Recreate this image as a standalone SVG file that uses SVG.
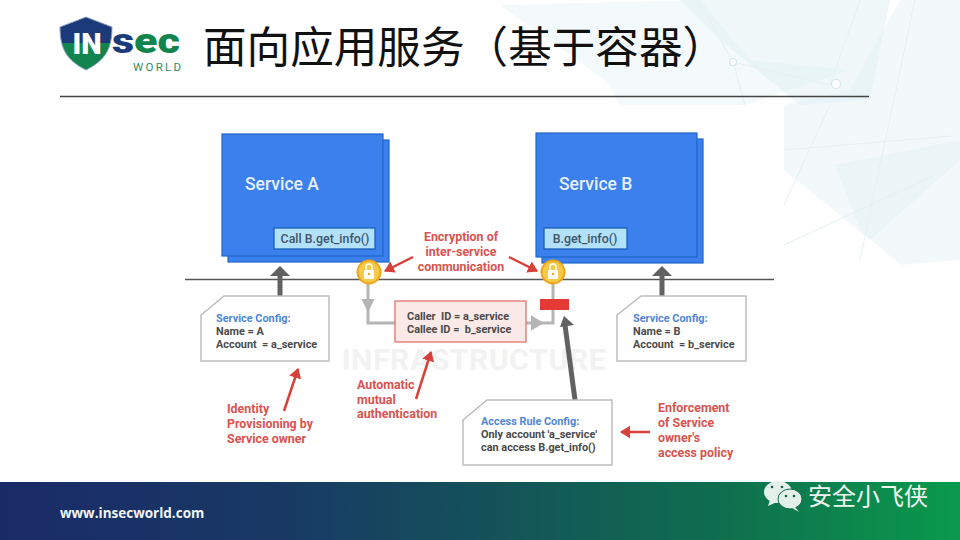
<svg xmlns="http://www.w3.org/2000/svg" width="960" height="540" viewBox="0 0 960 540">
<style>
.lat{font-family:"Roboto","Liberation Sans",sans-serif}
.cjk{font-family:"Noto Sans CJK SC",sans-serif}
.red{font-family:"Roboto","Liberation Sans",sans-serif;font-size:12.4px;font-weight:700;fill:#d9534f}
.cfg{font-family:"Roboto","Liberation Sans",sans-serif;font-size:10.9px;font-weight:700;fill:#4a4a4a;white-space:pre}
.cfgh{font-family:"Roboto","Liberation Sans",sans-serif;font-size:10.9px;font-weight:700;fill:#4f86d8}
.note{fill:#fff;stroke:#bdbdbd;stroke-width:1.5}
.blue{fill:#3b80ec;stroke:#1f66c8;stroke-width:1.2}
.call{fill:#b3e1fa;stroke:#1a62b8;stroke-width:1.3}
.gray{fill:none;stroke:#b5b5b5;stroke-width:3}
.dark{fill:none;stroke:#616161;stroke-width:5}
.rl{fill:none;stroke:#d8403a;stroke-width:2.5}
.poly{fill:#dcedf1}
.web{fill:none;stroke:#e4f0f2;stroke-width:1}
</style>
<defs>
<linearGradient id="foot" x1="0" x2="1" y1="0" y2="0"><stop offset="0" stop-color="#1a2a68"/><stop offset="0.3" stop-color="#183a64"/><stop offset="0.75" stop-color="#0f6e4e"/><stop offset="1" stop-color="#0a9a4c"/></linearGradient>
<linearGradient id="sh" x1="0" x2="0" y1="0" y2="1"><stop offset="0.5" stop-color="#1b3a7a"/><stop offset="0.5" stop-color="#11854d"/></linearGradient>
<marker id="ra" markerWidth="5" markerHeight="5" refX="3.6" refY="2.500" orient="auto"><path d="M0,0L4,2.500L0,5Z" fill="#d8403a"/></marker>
</defs>
<rect width="960" height="540" fill="#fff"/>
<g id="background">
<polygon class="poly" opacity=".3" points="500,5 700,0 750,60 850,70 745,105 620,105 605,80"/>
<polygon class="poly" opacity=".45" points="680,0 890,0 870,100 800,105 720,40"/>
<polygon class="poly" opacity=".35" points="784,105 850,90 900,0 960,0 960,160 870,240 784,170"/>
<polygon class="poly" opacity=".35" points="835,165 960,140 960,260 900,265 860,230"/>
<path class="web" d="M698,0L733,62L745,105M733,62L830,85M830,85L860,0M784,150L952,136M784,205L830,105M860,260L915,0M784,245L935,175"/>
<circle cx="733" cy="62" r="3.500" fill="#fff" stroke="#d3e5e8" stroke-width="1.200"/>
<circle cx="836" cy="84" r="4.500" fill="#fff" stroke="#d3e5e8" stroke-width="1.200"/>
</g>
<rect x="178" y="105" width="606" height="370" fill="#fff"/>
<g id="logo">
<path d="M86,17L112,27C112,48 106,60 86,70C66,60 60,48 60,27Z" fill="url(#sh)" stroke="#8fa0c8" stroke-width="1"/>
<text class="lat" x="87" y="54" font-size="29" font-weight="900" fill="#fff" text-anchor="middle">IN</text>
<text class="lat" x="112" y="52.500" font-size="35.500" font-weight="900" fill="#1b3a7a" textLength="68" lengthAdjust="spacingAndGlyphs">s<tspan fill="#11854d">ec</tspan></text>
<text class="lat" x="133" y="71" font-size="11.500" fill="#2d8f64" letter-spacing="2.300">WORLD</text>
</g>
<g id="title"><text class="cjk" x="203" y="63" font-size="43.600" fill="#111">面向应用服务（基于容器）</text></g>
<line x1="60" y1="96.500" x2="869" y2="96.500" stroke="#444" stroke-width="1.500"/>
<text class="lat" x="474" y="370" font-size="30" font-weight="700" fill="#f2f2f2" text-anchor="middle" letter-spacing=".65">INFRASTRUCTURE</text>
<g id="service-a">
<rect class="blue" x="228" y="140" width="161" height="122"/>
<rect class="blue" x="222" y="134" width="161" height="122"/>
<text class="lat" x="245" y="190" font-size="17.500" font-weight="500" fill="#e6effc">Service A</text>
<rect class="call" x="274" y="228" width="101" height="21"/>
<text class="lat" x="325" y="243" font-size="12.400" font-weight="500" fill="#3f5566" text-anchor="middle">Call B.get_info()</text>
</g>
<g id="service-b">
<rect class="blue" x="542" y="139" width="161" height="124"/>
<rect class="blue" x="536" y="133" width="161" height="124"/>
<text class="lat" x="559" y="190" font-size="17.500" font-weight="500" fill="#e6effc">Service B</text>
<rect class="call" x="544" y="228" width="83" height="21"/>
<text class="lat" x="585" y="243" font-size="12.400" font-weight="500" fill="#3f5566" text-anchor="middle">B.get_info()</text>
</g>
<g id="connectors">
<line x1="185" y1="279.500" x2="774" y2="279.500" stroke="#555" stroke-width="1.500"/>
<path class="gray" d="M368,284V323H395"/>
<path d="M363,300H373L368,310Z" fill="#b5b5b5" stroke="#b5b5b5" stroke-width="2"/>
<path class="gray" d="M526,323H553V284"/>
<path d="M532,317V329L542,323Z" fill="#b5b5b5" stroke="#b5b5b5" stroke-width="2"/>
<path class="dark" d="M280,296V274"/><path d="M270,276L280,266L290,276Z" fill="#616161"/>
<path class="dark" d="M662,296V274"/><path d="M652,276L662,266L672,276Z" fill="#616161"/>
<path class="dark" d="M575,400L565,325"/><path d="M560,327L564,316L574,325Z" fill="#616161"/>
<path class="rl" marker-end="url(#ra)" d="M413,257L385,271"/>
<path class="rl" marker-end="url(#ra)" d="M509,257L537,271"/>
<path class="rl" marker-end="url(#ra)" d="M284,411L298,369"/>
<path class="rl" marker-end="url(#ra)" d="M416,399L431,352"/>
<path class="rl" marker-end="url(#ra)" d="M650,432L621,432"/>
</g>
<g id="lock-a"><circle cx="369" cy="272" r="11.500" fill="#f7c948" stroke="#eea71a" stroke-width="2"/><rect x="364" y="270" width="10" height="9" rx="1" fill="#fff"/><path d="M366,270V267a3,3 0 0 1 6,0V270" fill="none" stroke="#fff" stroke-width="1.500"/><circle cx="369" cy="274" r="1.200" fill="#eea71a"/></g>
<g id="lock-b"><circle cx="553" cy="272" r="11.500" fill="#f7c948" stroke="#eea71a" stroke-width="2"/><rect x="548" y="270" width="10" height="9" rx="1" fill="#fff"/><path d="M550,270V267a3,3 0 0 1 6,0V270" fill="none" stroke="#fff" stroke-width="1.500"/><circle cx="553" cy="274" r="1.200" fill="#eea71a"/></g>
<g id="identity-box">
<rect x="395" y="301" width="131" height="41" fill="#fbe9e7" stroke="#e2736c" stroke-width="1.300"/>
<text class="cfg" x="407" y="320">Caller  ID = a_service</text>
<text class="cfg" x="407" y="332.500">Callee ID =  b_service</text>
</g>
<g id="enforcer"><rect x="540" y="299" width="29" height="11" fill="#e53935"/></g>
<g id="config-a">
<path class="note" d="M224,296H329V361H201V315Z"/>
<text class="cfgh" x="216" y="322">Service Config:</text>
<text class="cfg" x="216" y="334.500">Name = A</text>
<text class="cfg" x="216" y="347.500">Account  = a_service</text>
</g>
<g id="config-b">
<path class="note" d="M641,296H746V361H617V315Z"/>
<text class="cfgh" x="633" y="322">Service Config:</text>
<text class="cfg" x="633" y="334.500">Name = B</text>
<text class="cfg" x="633" y="347.500">Account  = b_service</text>
</g>
<g id="config-rule">
<path class="note" d="M487,400H612V465H463V420Z"/>
<text class="cfgh" x="481" y="425">Access Rule Config:</text>
<text class="cfg" x="481" y="438">Only account 'a_service'</text>
<text class="cfg" x="481" y="451">can access B.get_info()</text>
</g>
<g id="labels">
<text class="red" text-anchor="middle" x="461" y="241">Encryption of</text>
<text class="red" text-anchor="middle" x="461" y="256">inter-service</text>
<text class="red" text-anchor="middle" x="461" y="271">communication</text>
<text class="red" x="227" y="413">Identity</text>
<text class="red" x="227" y="428">Provisioning by</text>
<text class="red" x="227" y="443">Service owner</text>
<text class="red" x="357" y="389">Automatic</text>
<text class="red" x="357" y="403.500">mutual</text>
<text class="red" x="357" y="418">authentication</text>
<text class="red" x="658" y="412">Enforcement</text>
<text class="red" x="658" y="427">of Service</text>
<text class="red" x="658" y="442">owner's</text>
<text class="red" x="658" y="457">access policy</text>
</g>
<g id="footer">
<rect x="0" y="482" width="960" height="58" fill="url(#foot)"/>
<text x="60" y="518" font-family="Open Sans,Liberation Sans,sans-serif" font-size="13.500" font-weight="700" fill="#f2f6fa">www.insecworld.com</text>
<ellipse cx="778" cy="492" rx="14" ry="11" fill="#e3efe9"/><path d="M770,500L768,506L777,502Z" fill="#e3efe9"/>
<ellipse cx="790" cy="499" rx="12" ry="10" fill="#e3efe9" stroke="#0f6e4e" stroke-width="1"/><path d="M795,507L799,512L792,508Z" fill="#e3efe9"/>
<circle cx="772" cy="487" r="1.300" fill="#17634a"/><circle cx="782" cy="487" r="1.300" fill="#17634a"/><circle cx="786" cy="496" r="1.300" fill="#17634a"/><circle cx="794" cy="496" r="1.300" fill="#17634a"/>
<text class="cjk" x="808" y="505" font-size="24" fill="#eef5f0">安全小飞侠</text>
</g>
</svg>
